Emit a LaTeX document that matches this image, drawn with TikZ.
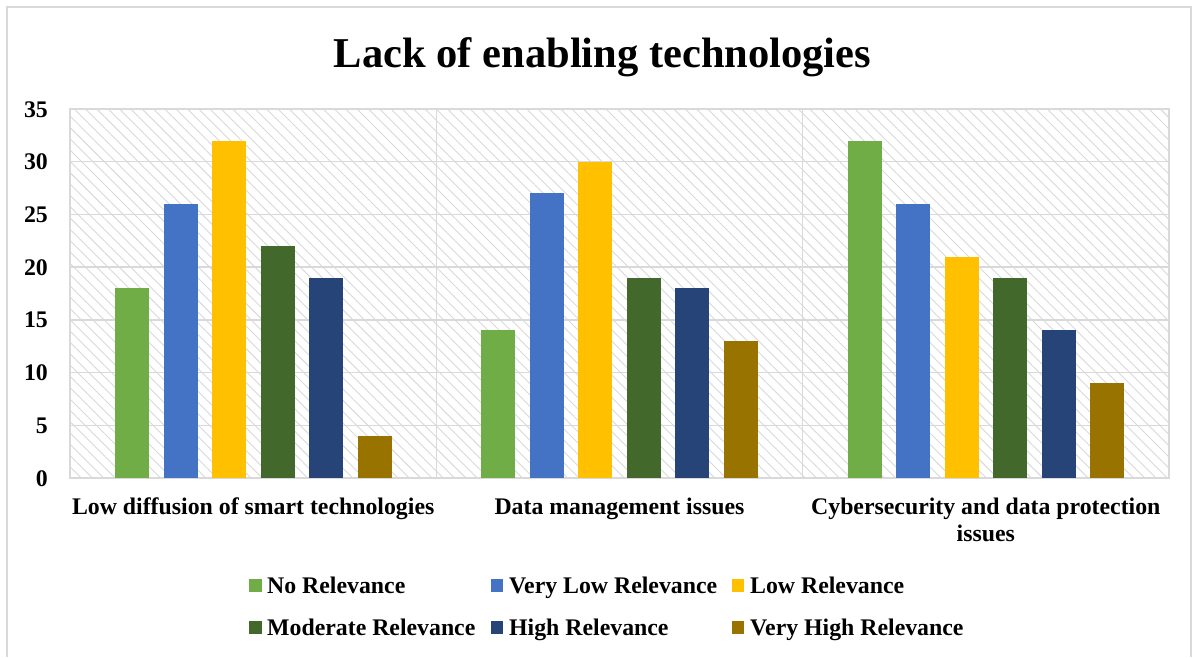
\documentclass[tikz,border=0pt]{standalone}
\usepackage{fontspec}
\setmainfont{Liberation Serif}
\usetikzlibrary{patterns.meta}
\definecolor{cNo}{HTML}{70AD47}
\definecolor{cVL}{HTML}{4472C4}
\definecolor{cL}{HTML}{FFC000}
\definecolor{cM}{HTML}{43682B}
\definecolor{cH}{HTML}{264478}
\definecolor{cVH}{HTML}{997300}
\definecolor{gridc}{HTML}{D9D9D9}
\tikzset{
  lbl/.style={font=\bfseries\fontsize{23.8}{27}\selectfont, inner sep=0pt},
  ticklbl/.style={lbl, anchor=base east},
  catlbl/.style={lbl, align=center, anchor=base},
  leglbl/.style={lbl, anchor=base west},
  legsq/.style={minimum size=12.5pt, inner sep=0pt},
  gridline/.style={draw=gridc, line width=1.5pt},
}
\begin{document}
\begin{tikzpicture}[x=1pt,y=-1pt]
\useasboundingbox (0,0) rectangle (1192,657);
\fill[white] (0,0) rectangle (1192,657);
% outer frame
\draw[gridc, line width=1.5pt] (7,657) -- (7,7) -- (1191,7) -- (1191,657);
% title
\node[font=\bfseries\fontsize{42.5}{50}\selectfont, inner sep=0pt, anchor=base] (title) at (602.5,67) {Lack of enabling technologies};
% plot area pattern
\fill[pattern={Lines[angle=-45,distance=8pt,line width=0.9pt]}, pattern color=gridc] (70,109) rectangle (1169,478);
% gridlines
\foreach \v in {0,5,...,35} {
  \draw[gridline] (70,{478-10.543*\v}) -- (1169,{478-10.543*\v});
  \node[ticklbl] (t\v) at (48,{486-10.543*\v}) {\v};
}
\draw[gridline] (70,109) rectangle (1169,478);
\draw[gridline] (436.3,109) -- (436.3,478);
\draw[gridline] (802.7,109) -- (802.7,478);
% bars
\foreach \cat/\vals in {0/{18,26,32,22,19,4},1/{14,27,30,19,18,13},2/{32,26,21,19,14,9}} {
  \foreach \val [count=\i from 0] in \vals {
    \pgfmathsetmacro{\xl}{70+366.33*\cat+45+48.5*\i}
    \ifcase\i \def\bc{cNo}\or \def\bc{cVL}\or \def\bc{cL}\or \def\bc{cM}\or \def\bc{cH}\or \def\bc{cVH}\fi
    \fill[\bc] (\xl,478) rectangle ({\xl+34},{478-10.543*\val});
  }
}
% category labels
\node[catlbl] (c1) at (253.2,514) {Low diffusion of smart technologies};
\node[catlbl] (c2) at (619.5,514) {Data management issues};
\node[catlbl] (c3) at (985.8,541) {Cybersecurity and data protection\\issues};
% legend
\node[legsq, fill=cNo] (l1) at (255.5,585.5) {};
\node[leglbl] (l1t) at (267,593) {No Relevance};
\node[legsq, fill=cVL] (l2) at (497,585.5) {};
\node[leglbl] (l2t) at (509,593) {Very Low Relevance};
\node[legsq, fill=cL] (l3) at (738,585.5) {};
\node[leglbl] (l3t) at (750,593) {Low Relevance};
\node[legsq, fill=cM] (l4) at (255.5,627.5) {};
\node[leglbl] (l4t) at (267,635) {Moderate Relevance};
\node[legsq, fill=cH] (l5) at (497,627.5) {};
\node[leglbl] (l5t) at (509,635) {High Relevance};
\node[legsq, fill=cVH] (l6) at (738,627.5) {};
\node[leglbl] (l6t) at (750,635) {Very High Relevance};
\end{tikzpicture}
\end{document}
